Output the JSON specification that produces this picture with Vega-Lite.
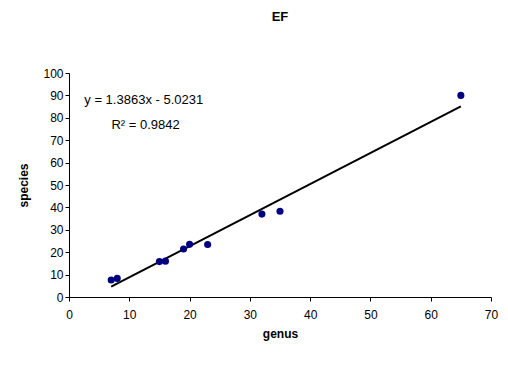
{
  "$schema": "https://vega.github.io/schema/vega-lite/v6.json",
  "width": 422,
  "height": 224,
  "autosize": {"type": "none"},
  "padding": {"left": 69, "top": 73, "right": 17, "bottom": 70},
  "background": "white",
  "config": {
    "view": {"stroke": null},
    "font": "Liberation Sans",
    "axis": {"grid": false, "domainColor": "black", "tickColor": "black", "labelColor": "black", "titleColor": "black", "labelFont": "Liberation Sans", "titleFont": "Liberation Sans", "labelFontSize": 12, "titleFontSize": 12, "tickSize": 4, "labelOverlap": false, "labelFlush": false}
  },
  "title": {"text": "EF", "fontSize": 13, "fontWeight": "bold", "font": "Liberation Sans", "color": "black", "offset": 43, "anchor": "middle"},
  "datasets": {
    "pts": [
      {"genus": 7, "species": 7.6},
      {"genus": 8, "species": 8.3},
      {"genus": 15, "species": 15.8},
      {"genus": 16, "species": 16},
      {"genus": 19, "species": 21.4},
      {"genus": 20, "species": 23.5},
      {"genus": 23, "species": 23.4},
      {"genus": 32, "species": 37},
      {"genus": 35, "species": 38.3},
      {"genus": 65, "species": 90}
    ],
    "fit": [
      {"genus": 7, "species": 4.68},
      {"genus": 65, "species": 85.09}
    ],
    "labels": [
      {"genus": 12.4, "species": 88, "t": "y = 1.3863x - 5.0231"},
      {"genus": 12.7, "species": 76.6, "t": "R² = 0.9842"}
    ]
  },
  "encoding": {
    "x": {"field": "genus", "type": "quantitative", "scale": {"domain": [0, 70]}, "axis": {"values": [0,10,20,30,40,50,60,70], "title": "genus", "titleFontWeight": "bold", "labelPadding": 8, "titlePadding": 8, "labelOverlap": false}},
    "y": {"field": "species", "type": "quantitative", "scale": {"domain": [0, 100]}, "axis": {"values": [0,10,20,30,40,50,60,70,80,90,100], "title": "species", "titleFontWeight": "bold", "titlePadding": 12, "labelOverlap": false, "labelSeparation": 0}}
  },
  "layer": [
    {
      "data": {"name": "fit"},
      "mark": {"type": "line", "color": "black", "strokeWidth": 2}
    },
    {
      "data": {"name": "pts"},
      "mark": {"type": "point", "filled": true, "color": "#000080", "opacity": 1, "size": 50}
    },
    {
      "data": {"name": "labels"},
      "mark": {"type": "text", "fontSize": 13, "color": "black", "align": "center", "baseline": "middle"},
      "encoding": {
        "text": {"field": "t"}
      }
    }
  ]
}
